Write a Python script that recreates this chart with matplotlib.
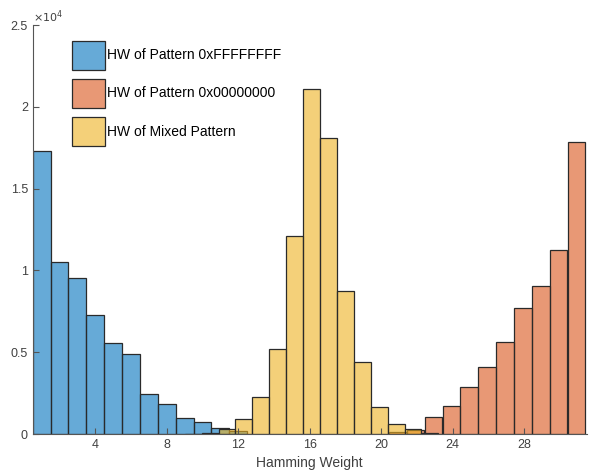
import matplotlib.pyplot as plt
from matplotlib.ticker import FuncFormatter
import numpy as np

plt.rcParams['font.family'] = ['Liberation Sans', 'DejaVu Sans']

# hamming weight counts
ff_centers = np.arange(1, 13)
ff_counts = [17300, 10500, 9550, 7250, 5540, 4870, 2430, 1810, 960, 750, 350, 180]

zero_centers = np.arange(21, 32) - 0.07
zero_counts = [100, 250, 1060, 1730, 2850, 4110, 5600, 7680, 9050, 11250, 17870]

mixed_left = 9.01
mixed_width = 0.946
mixed_counts = [30, 80, 300, 900, 2280, 5180, 12080, 21070, 18070, 8760, 4420,
                1630, 610, 330, 80]

labels = ['HW of Pattern 0xFFFFFFFF', 'HW of Pattern 0x00000000', 'HW of Mixed Pattern']
colors = [(0, 0.447, 0.741), (0.85, 0.325, 0.098), (0.929, 0.694, 0.125)]

fig = plt.figure(figsize=(5.98, 4.72), dpi=100)
ax = fig.add_axes([0.0547, 0.0805, 0.9263, 0.8665])

ax.bar(ff_centers, ff_counts, width=1.0, color=colors[0] + (0.6,),
       edgecolor='#2a2a2a', linewidth=0.9, label=labels[0])
ax.bar(zero_centers, zero_counts, width=0.99, color=colors[1] + (0.6,),
       edgecolor='#2a2a2a', linewidth=0.9, label=labels[1])
mixed_x = mixed_left + mixed_width * np.arange(len(mixed_counts))
ax.bar(mixed_x, mixed_counts, width=mixed_width, align='edge',
       color=colors[2] + (0.6,), edgecolor='#2a2a2a', linewidth=0.9,
       label=labels[2])

ax.set_xlim(0.5, 31.5)
ax.set_ylim(0, 25000)
ax.set_xticks([4, 8, 12, 16, 20, 24, 28])
ax.set_yticks([0, 5000, 10000, 15000, 20000, 25000])
ax.yaxis.set_major_formatter(FuncFormatter(lambda v, p: f'{v / 1e4:g}'))

gray = '#404040'
for s in ['top', 'right']:
    ax.spines[s].set_visible(False)
for s in ['left', 'bottom']:
    ax.spines[s].set_color('#555555')
    ax.spines[s].set_linewidth(0.8)
ax.tick_params(direction='in', length=4, width=0.8, colors='#555555',
               labelcolor=gray, labelsize=9)
ax.text(0.0, 1.0, r'$\times10^4$', transform=ax.transAxes, fontsize=8,
        color=gray, ha='left', va='bottom')
ax.set_xlabel('Hamming Weight', fontsize=10, color=gray, labelpad=4)

ax.legend(loc='upper left', bbox_to_anchor=(72 / 598, 1 - 41 / 472),
          bbox_transform=fig.transFigure, frameon=False, borderpad=0,
          borderaxespad=0, fontsize=10, handlelength=2.37,
          handleheight=2.79, handletextpad=0.15, labelspacing=0.68)

fig.savefig('out.png', dpi=100)
